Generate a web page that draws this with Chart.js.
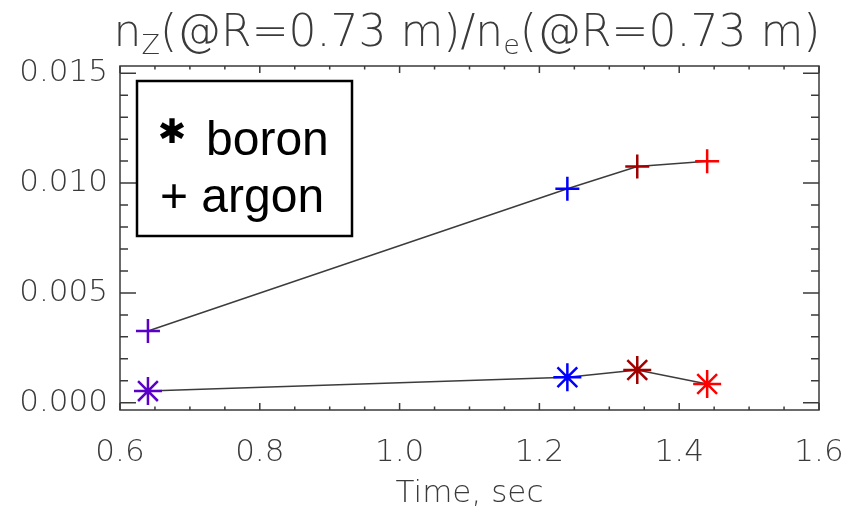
<!DOCTYPE html>
<html>
<head>
<meta charset="utf-8">
<script src="https://cdn.jsdelivr.net/npm/chart.js@4.4.1/dist/chart.umd.min.js"></script>
<style>
  html, body { margin: 0; padding: 0; background: #fff; }
</style>
</head>
<body>
<canvas id="zChart" width="848" height="514"></canvas>
<script>
// data
const times = [0.64, 1.24, 1.34, 1.44];
const argon = [0.00327, 0.00974, 0.01075, 0.01099];
const boron = [0.00053, 0.00116, 0.00149, 0.00085];
const pointColors = ['#5a00c8', '#0000ff', '#a00000', '#ff0000'];
const xTicks = [0.6, 0.8, 1.0, 1.2, 1.4, 1.6];
const yTicks = [0.000, 0.005, 0.010, 0.015];
const xMinorStep = 0.05;
const yMinorStep = 0.001;

const axisColor = '#3a3a3a';
const thinFamily = "'DejaVu Sans', sans-serif";
const axisFont = { family: thinFamily, size: 31, weight: 200 };

// IDL-style box with inward ticks on all four sides
const frameTicks = {
    id: 'frameTicks',
    beforeDatasetsDraw(chart) {
        const ctx = chart.ctx;
        const a = chart.chartArea;
        const xs = chart.scales.x;
        const ys = chart.scales.y;
        ctx.save();
        ctx.strokeStyle = axisColor;
        ctx.lineWidth = 1.5;
        ctx.strokeRect(a.left, a.top, a.right - a.left, a.bottom - a.top);

        for (let v = xs.min; v <= xs.max + 1e-9; v += xMinorStep) {
            let px = xs.getPixelForValue(v);
            let major = xTicks.some(t => Math.abs(t - v) < 1e-6);
            let len = major ? 7 : 3.5;
            ctx.beginPath();
            ctx.moveTo(px, a.bottom); ctx.lineTo(px, a.bottom - len);
            ctx.moveTo(px, a.top); ctx.lineTo(px, a.top + len);
            ctx.stroke();
        }
        for (let i = 0; i <= 15; i++) {
            let v = i * yMinorStep;
            let py = ys.getPixelForValue(v);
            let major = yTicks.some(t => Math.abs(t - v) < 1e-9);
            let len = major ? 16 : 8;
            ctx.beginPath();
            ctx.moveTo(a.left, py); ctx.lineTo(a.left + len, py);
            ctx.moveTo(a.right, py); ctx.lineTo(a.right - len, py);
            ctx.stroke();
        }
        ctx.restore();
    }
};

// title with subscripts: n_Z(@R=0.73 m)/n_e(@R=0.73 m)
const subTitle = {
    id: 'subTitle',
    afterDraw(chart) {
        const ctx = chart.ctx;
        const parts = [
            ['n', 0], ['Z', 1], ['(@R=0.73 m)/n', 0], ['e', 1], ['(@R=0.73 m)', 0]
        ];
        const big = `200 44px ${thinFamily}`;
        const small = `200 27px ${thinFamily}`;
        ctx.save();
        ctx.fillStyle = axisColor;
        ctx.textBaseline = 'alphabetic';
        let total = 0;
        parts.forEach(p => {
            ctx.font = p[1] ? small : big;
            total += ctx.measureText(p[0]).width;
        });
        let x = 467 - total / 2;
        parts.forEach(p => {
            ctx.font = p[1] ? small : big;
            ctx.fillText(p[0], x, p[1] ? 54 : 46);
            x += ctx.measureText(p[0]).width;
        });
        ctx.restore();
    }
};

// boxed legend in the upper left
const boxLegend = {
    id: 'boxLegend',
    afterDraw(chart) {
        const ctx = chart.ctx;
        ctx.save();
        ctx.strokeStyle = '#000';
        ctx.lineWidth = 2.5;
        ctx.strokeRect(137, 81, 215, 155);
        ctx.fillStyle = '#000';
        ctx.textBaseline = 'alphabetic';
        ctx.font = "48px 'Liberation Sans', Arial, sans-serif";
        ctx.fillText(chart.data.datasets[0].label, 206, 155);
        ctx.fillText('+ ' + chart.data.datasets[1].label, 160, 212);
        ctx.font = "bold 34px 'DejaVu Sans', sans-serif";
        ctx.textAlign = 'center';
        ctx.textBaseline = 'middle';
        ctx.fillText('\u2731', 172, 134);
        ctx.restore();
    }
};

const ctx = document.getElementById('zChart');
new Chart(ctx, {
    type: 'line',
    data: {
        datasets: [{
            label: 'boron',
            data: times.map((t, i) => ({ x: t, y: boron[i] })),
            borderColor: '#3c3c3c',
            borderWidth: 1.5,
            pointStyle: 'star',
            pointRadius: 14,
            pointBorderWidth: 2.5,
            pointBorderColor: pointColors,
            pointBackgroundColor: pointColors
        }, {
            label: 'argon',
            data: times.map((t, i) => ({ x: t, y: argon[i] })),
            borderColor: '#3c3c3c',
            borderWidth: 1.5,
            pointStyle: 'cross',
            pointRadius: 12,
            pointBorderWidth: 2.5,
            pointBorderColor: pointColors,
            pointBackgroundColor: pointColors
        }]
    },
    options: {
        responsive: false,
        animation: false,
        layout: { padding: { top: 66, right: 29, left: 0, bottom: 0 } },
        plugins: {
            legend: { display: false },
            title: { display: false },
            tooltip: { enabled: false }
        },
        scales: {
            x: {
                type: 'linear',
                min: 0.6,
                max: 1.6,
                afterBuildTicks: s => { s.ticks = xTicks.map(v => ({ value: v })); },
                afterFit: s => { s.height = 104; s.paddingLeft = 0; s.paddingRight = 0; },
                ticks: {
                    callback: v => v.toFixed(1),
                    font: axisFont,
                    color: axisColor,
                    padding: 24,
                    maxRotation: 0,
                    autoSkip: false
                },
                grid: { display: false, drawTicks: false },
                border: { display: false },
                title: {
                    display: true,
                    text: 'Time, sec',
                    font: axisFont,
                    color: axisColor,
                    padding: { top: 0, bottom: 1 }
                }
            },
            y: {
                type: 'linear',
                min: -0.00033,
                max: 0.01533,
                afterBuildTicks: s => { s.ticks = yTicks.map(v => ({ value: v })); },
                afterFit: s => { s.width = 120; s.paddingTop = 0; s.paddingBottom = 0; },
                ticks: {
                    callback: v => v.toFixed(3),
                    font: axisFont,
                    color: axisColor,
                    padding: 12
                },
                grid: { display: false, drawTicks: false },
                border: { display: false }
            }
        }
    },
    plugins: [frameTicks, subTitle, boxLegend]
});
</script>
</body>
</html>
